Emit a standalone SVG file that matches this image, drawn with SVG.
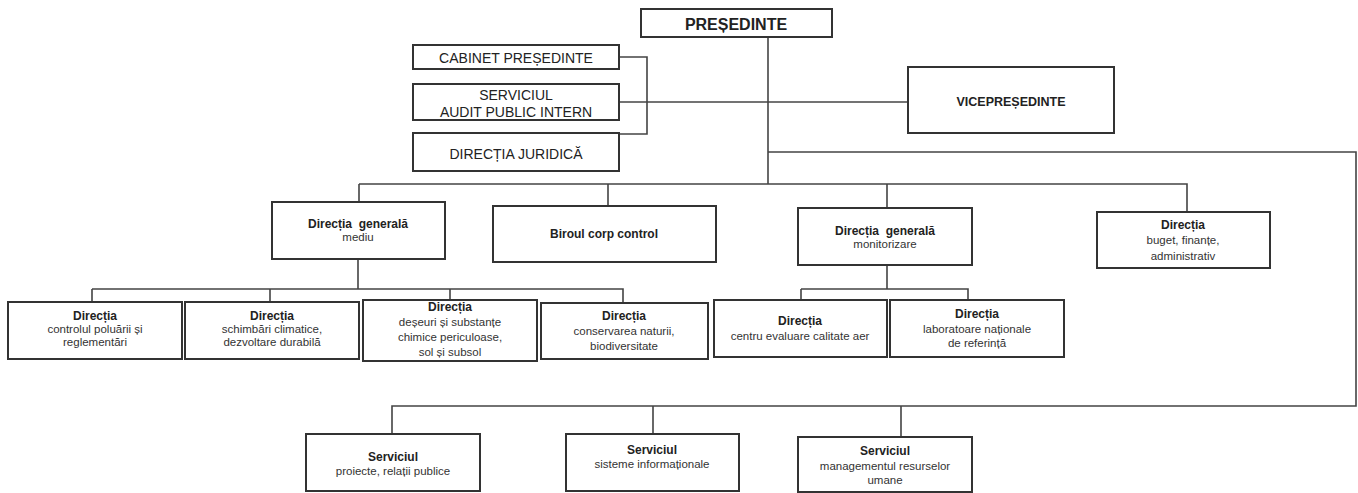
<svg xmlns="http://www.w3.org/2000/svg" width="1358" height="493" viewBox="0 0 1358 493">
<style>
.box{fill:#fff;stroke:#333;stroke-width:2}
.ln{fill:none;stroke:#444;stroke-width:1.6}
text{font-family:"Liberation Sans",Arial,sans-serif;fill:#222;text-anchor:middle}
.top{font-size:14px}
.big{font-size:16px;font-weight:bold}
.vp{font-size:12.5px;font-weight:bold}
.t{font-size:12px;font-weight:bold}
.s{font-size:11.5px;fill:#333}
</style>
<rect width="1358" height="493" fill="#fff"/>
<g id="connectors">
<path class="ln" d="M768,37 V184"/>
<path class="ln" d="M619,57 H647 V134 H619"/>
<path class="ln" d="M619,102 H908"/>
<path class="ln" d="M768,152 H1356 V406 H392 V434"/>
<path class="ln" d="M653,406 V434 M901,406 V437"/>
<path class="ln" d="M359,184 H1187 V212 M359,184 V202 M608,184 V206 M887,184 V208"/>
<path class="ln" d="M358,259 V289 M92,289 H623 V303 M92,289 V302 M270,289 V302 M450,289 V300"/>
<path class="ln" d="M887,265 V289 M801,289 H968 V300 M801,289 V300"/>
</g>
<g id="presedinte"><rect class="box" x="641" y="9" width="191" height="28"/><text class="big" x="736" y="30">PREȘEDINTE</text></g>
<g id="cabinet"><rect class="box" x="413" y="45" width="206" height="24"/><text class="top" x="516" y="63">CABINET PREȘEDINTE</text></g>
<g id="audit"><rect class="box" x="413" y="84" width="206" height="36"/><text class="top" x="516" y="100">SERVICIUL</text><text class="top" x="516" y="116.5">AUDIT PUBLIC INTERN</text></g>
<g id="juridica"><rect class="box" x="413" y="133" width="206" height="38"/><text class="top" x="516" y="159">DIRECȚIA JURIDICĂ</text></g>
<g id="vicepresedinte"><rect class="box" x="908" y="67" width="206" height="66"/><text class="vp" x="1011" y="106">VICEPREȘEDINTE</text></g>
<g id="dg-mediu"><rect class="box" x="272" y="202" width="173" height="57"/><text class="t" x="358" y="228" xml:space="preserve">Direcția  generală</text><text class="s" x="358" y="241">mediu</text></g>
<g id="birou"><rect class="box" x="493" y="206" width="223" height="56"/><text class="t" x="604" y="238">Biroul corp control</text></g>
<g id="dg-monitorizare"><rect class="box" x="798" y="208" width="174" height="57"/><text class="t" x="885" y="235" xml:space="preserve">Direcția  generală</text><text class="s" x="885" y="248">monitorizare</text></g>
<g id="buget"><rect class="box" x="1097" y="212" width="173" height="56"/><text class="t" x="1183" y="229">Direcția</text><text class="s" x="1183" y="244">buget, finanțe,</text><text class="s" x="1183" y="260">administrativ</text></g>
<g id="d-poluare"><rect class="box" x="8" y="302" width="174" height="57"/><text class="t" x="95" y="320">Direcția</text><text class="s" x="95" y="333">controlul poluării și</text><text class="s" x="95" y="346">reglementări</text></g>
<g id="d-clima"><rect class="box" x="185" y="302" width="174" height="57"/><text class="t" x="272" y="320">Direcția</text><text class="s" x="272" y="333">schimbări climatice,</text><text class="s" x="272" y="346">dezvoltare durabilă</text></g>
<g id="d-deseuri"><rect class="box" x="363" y="300" width="174" height="61"/><text class="t" x="450" y="311">Direcția</text><text class="s" x="450" y="326">deșeuri și substanțe</text><text class="s" x="450" y="341">chimice periculoase,</text><text class="s" x="450" y="356">sol și subsol</text></g>
<g id="d-natura"><rect class="box" x="541" y="303" width="167" height="56"/><text class="t" x="624" y="320">Direcția</text><text class="s" x="624" y="335">conservarea naturii,</text><text class="s" x="624" y="350">biodiversitate</text></g>
<g id="d-aer"><rect class="box" x="714" y="300" width="173" height="57"/><text class="t" x="800" y="325">Direcția</text><text class="s" x="800" y="340">centru evaluare calitate aer</text></g>
<g id="d-laboratoare"><rect class="box" x="890" y="300" width="174" height="57"/><text class="t" x="977" y="318">Direcția</text><text class="s" x="977" y="333">laboratoare naționale</text><text class="s" x="977" y="347">de referință</text></g>
<g id="s-proiecte"><rect class="box" x="306" y="434" width="174" height="57"/><text class="t" x="393" y="461">Serviciul</text><text class="s" x="393" y="475">proiecte, relații publice</text></g>
<g id="s-sisteme"><rect class="box" x="566" y="434" width="173" height="57"/><text class="t" x="652" y="454">Serviciul</text><text class="s" x="652" y="468">sisteme informaționale</text></g>
<g id="s-resurse"><rect class="box" x="798" y="437" width="174" height="55"/><text class="t" x="885" y="455">Serviciul</text><text class="s" x="885" y="470">managementul resurselor</text><text class="s" x="885" y="484">umane</text></g>
</svg>
